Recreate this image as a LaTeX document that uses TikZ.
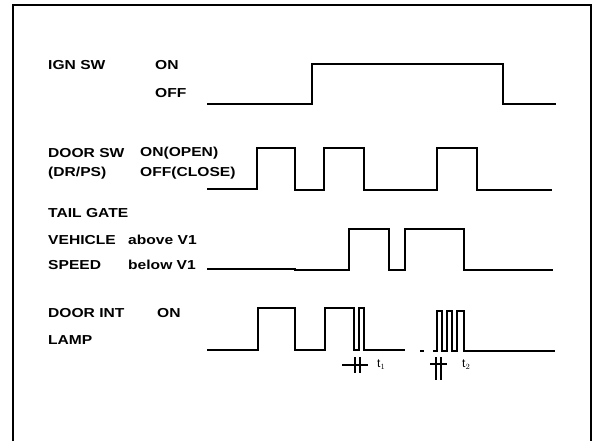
\documentclass[tikz,border=0pt]{standalone}
\usepackage{fontspec}
\setmainfont{Liberation Sans}
\begin{document}
\begin{tikzpicture}[x=1pt,y=-1pt,
  lbl/.style={anchor=west,inner sep=0pt,font=\bfseries\fontsize{13}{15}\selectfont},
  small/.style={anchor=west,inner sep=0pt,font=\fontsize{12}{14}\selectfont},
  wave/.style={line width=1.5pt,line join=miter},
  frame/.style={line width=2pt}]
\newcommand{\wide}[1]{\scalebox{1.2}[1]{#1}}
\useasboundingbox (0,0) rectangle (596,441);
% frame (open at bottom)
\draw[frame] (13,441) -- (13,5) -- (591,5) -- (591,441);
% labels
\node[lbl] (ign) at (48,65) {\wide{IGN SW}};
\node[lbl] (ignon) at (155,65) {\wide{ON}};
\node[lbl] (ignoff) at (155,93) {\wide{OFF}};
\node[lbl] (dsw) at (48,153) {\wide{DOOR SW}};
\node[lbl] (dswon) at (140,153) {\wide{ON(OPEN)}};
\node[lbl] (drps) at (48,173) {\wide{(DR/PS)}};
\node[lbl] (dswoff) at (140,173) {\wide{OFF(CLOSE)}};
\node[lbl] (tail) at (48,213) {\wide{TAIL GATE}};
\node[lbl] (veh) at (48,240) {\wide{VEHICLE}};
\node[lbl] (above) at (128,240) {\wide{above V1}};
\node[lbl] (spd) at (48,265) {\wide{SPEED}};
\node[lbl] (below) at (128,265) {\wide{below V1}};
\node[lbl] (dint) at (48,313) {\wide{DOOR INT}};
\node[lbl] (dinton) at (157,313) {\wide{ON}};
\node[lbl] (lamp) at (48,340) {\wide{LAMP}};
% IGN SW waveform
\draw[wave] (207,104) -- (312,104) -- (312,64) -- (503,64) -- (503,104) -- (556,104);
% DOOR SW waveform
\draw[wave] (207,189) -- (257,189) -- (257,148) -- (295,148) -- (295,190) -- (324,190)
  -- (324,148) -- (364,148) -- (364,190) -- (437,190) -- (437,148) -- (477,148)
  -- (477,190) -- (552,190);
% VEHICLE SPEED waveform
\draw[wave] (207,269) -- (295,269) -- (295,270) -- (349,270) -- (349,229) -- (389,229)
  -- (389,270) -- (405,270) -- (405,229) -- (464,229) -- (464,270) -- (553,270);
% DOOR INT LAMP waveform
\draw[wave] (207,350) -- (258,350) -- (258,308) -- (295,308) -- (295,350) -- (325,350)
  -- (325,308) -- (354,308) -- (354,350) -- (359,350) -- (359,308) -- (364,308)
  -- (364,350) -- (405,350);
\draw[wave] (420,351) -- (424,351);
\draw[wave] (433,351) -- (437,351) -- (437,311) -- (442,311) -- (442,351) -- (447,351)
  -- (447,311) -- (452,311) -- (452,351) -- (457,351) -- (457,311) -- (464,311)
  -- (464,351) -- (555,351);
% t1 marker
\coordinate (t1a) at (342,365); \coordinate (t1b) at (368,365);
\draw[line width=1.2pt] (t1a) -- (t1b);
\draw[line width=1.2pt] (355,357) -- (355,373) (360,357) -- (360,373);
\node[small] (t1) at (377,365) {t$_1$};
% t2 marker
\coordinate (t2a) at (430,364); \coordinate (t2b) at (447,364);
\draw[line width=1.2pt] (t2a) -- (t2b);
\draw[line width=1.2pt] (436,357) -- (436,380) (441,357) -- (441,380);
\node[small] (t2) at (462,365) {t$_2$};
\end{tikzpicture}
\end{document}
